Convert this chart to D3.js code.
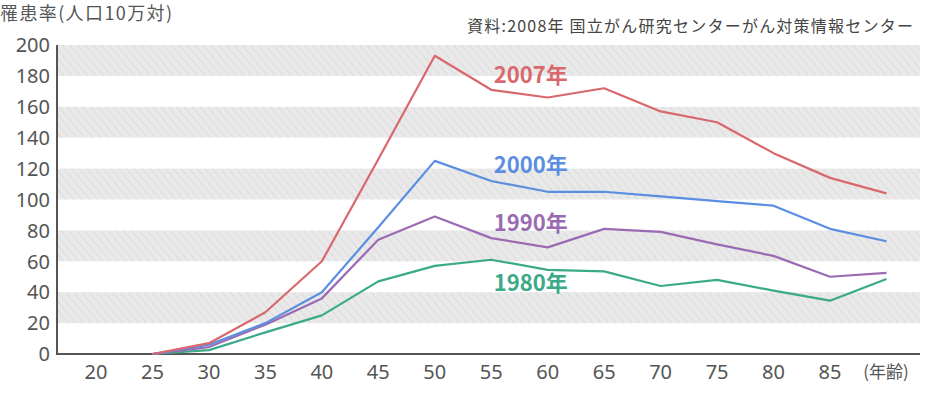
<!DOCTYPE html>
<html>
<head>
<meta charset="utf-8">
<script src="https://cdn.jsdelivr.net/npm/d3@7"></script>
<style>
  body { margin: 0; background: #fff; }
  svg { display: block; }
  .tick-label { font-family: "Noto Sans", "Open Sans", sans-serif; font-size: 20px; fill: #555; }
  .cjk { font-family: "Noto Sans CJK JP", sans-serif; }
</style>
</head>
<body>
<svg id="chart"></svg>
<script>
// ages on the x axis (90 is unlabelled, "(年齢)" sits there)
const ages = [25, 30, 35, 40, 45, 50, 55, 60, 65, 70, 75, 80, 85, 90];
const xTicks = [20, 25, 30, 35, 40, 45, 50, 55, 60, 65, 70, 75, 80, 85];
const yTicks = [0, 20, 40, 60, 80, 100, 120, 140, 160, 180, 200];

const years = ["2007年", "2000年", "1990年", "1980年"];
const rate2007 = [0, 7, 27, 60, 126, 193, 171, 166, 172, 157, 150, 130, 114, 104];
const rate2000 = [0, 6, 20, 40, 82, 125, 112, 105, 105, 102, 99, 96, 81, 73];
const rate1990 = [0, 4.5, 19, 36, 74, 89, 75, 69, 81, 79, 71, 63.5, 50, 52.5];
const rate1980 = [0, 2.5, 14, 25, 47, 57, 61, 54.5, 53.5, 44, 48, 41, 34.5, 48.5];
const colors = ["#d9686c", "#5b8ee0", "#9a6bb2", "#3aaa88"];

// where the year labels sit (in data units)
const labelAge = 58.5;
const labelRate = [180.5, 122, 85, 46];

const W = 929, H = 397;
const svg = d3.select("#chart").attr("width", W).attr("height", H);

const x = d3.scaleLinear().domain([20, 85]).range([96, 830]);
const y = d3.scaleLinear().domain([0, 200]).range([354, 45]);
const plotLeft = 57, plotRight = 920;

// hatched band pattern
const defs = svg.append("defs");
const pat = defs.append("pattern")
  .attr("id", "hatch")
  .attr("patternUnits", "userSpaceOnUse")
  .attr("width", 6).attr("height", 6)
  .attr("patternTransform", "rotate(-40)");
pat.append("rect").attr("width", 6).attr("height", 6).attr("fill", "#e9e9e9");
pat.append("line").attr("x1", 0).attr("y1", 0).attr("x2", 0).attr("y2", 6)
  .attr("stroke", "#dcdcdc").attr("stroke-width", 2);

// gray bands: 20-40, 60-80, 100-120, 140-160, 180-200
const bands = yTicks.filter((d, i) => i % 2 === 1 && d < 200);
svg.append("g").selectAll("rect")
  .data(bands)
  .join("rect")
    .attr("x", plotLeft)
    .attr("width", plotRight - plotLeft)
    .attr("y", d => y(d + 20))
    .attr("height", d => y(d) - y(d + 20))
    .attr("fill", "url(#hatch)");

// axes
svg.append("line")
  .attr("x1", plotLeft).attr("x2", plotLeft)
  .attr("y1", y(200)).attr("y2", y(0))
  .attr("stroke", "#555").attr("stroke-width", 2);
svg.append("line")
  .attr("x1", plotLeft - 1).attr("x2", plotRight)
  .attr("y1", y(0)).attr("y2", y(0))
  .attr("stroke", "#555").attr("stroke-width", 2);

// y tick labels
svg.append("g").selectAll("text")
  .data(yTicks)
  .join("text")
    .attr("class", "tick-label")
    .attr("x", 50)
    .attr("y", d => y(d))
    .attr("dy", "0.36em")
    .attr("text-anchor", "end")
    .text(d => d);

// x tick labels
svg.append("g").selectAll("text")
  .data(xTicks)
  .join("text")
    .attr("class", "tick-label")
    .attr("x", d => x(d))
    .attr("y", 372)
    .attr("dy", "0.36em")
    .attr("text-anchor", "middle")
    .text(d => d);

svg.append("text")
  .attr("class", "cjk")
  .attr("x", 886)
  .attr("y", 372)
  .attr("dy", "0.36em")
  .attr("text-anchor", "middle")
  .attr("font-size", 17)
  .attr("fill", "#555")
  .text("(年齢)");

// titles
svg.append("text")
  .attr("class", "cjk")
  .attr("x", 0).attr("y", 14)
  .attr("dy", "0.36em")
  .attr("font-size", 18)
  .attr("textLength", 172)
  .attr("lengthAdjust", "spacing")
  .attr("fill", "#555")
  .text("罹患率(人口10万対)");

svg.append("text")
  .attr("class", "cjk")
  .attr("x", 467).attr("y", 26)
  .attr("dy", "0.36em")
  .attr("font-size", 16)
  .attr("textLength", 446)
  .attr("lengthAdjust", "spacing")
  .attr("fill", "#444")
  .text("資料:2008年 国立がん研究センターがん対策情報センター");

// lines
const series = [rate2007, rate2000, rate1990, rate1980];
const line = d3.line()
  .x((d, i) => x(ages[i]))
  .y(d => y(d));

svg.append("g").selectAll("path")
  .data(series.slice().reverse())
  .join("path")
    .attr("d", d => line(d))
    .attr("fill", "none")
    .attr("stroke", (d, i) => colors[series.length - 1 - i])
    .attr("stroke-width", 2.2)
    .attr("stroke-linejoin", "round");

// year labels
svg.append("g").selectAll("text")
  .data(years)
  .join("text")
    .attr("class", "cjk")
    .attr("x", x(labelAge))
    .attr("y", (d, i) => y(labelRate[i]))
    .attr("dy", "0.36em")
    .attr("text-anchor", "middle")
    .attr("font-size", 22)
    .attr("font-weight", "bold")
    .attr("fill", (d, i) => colors[i])
    .text(d => d);
</script>
</body>
</html>
